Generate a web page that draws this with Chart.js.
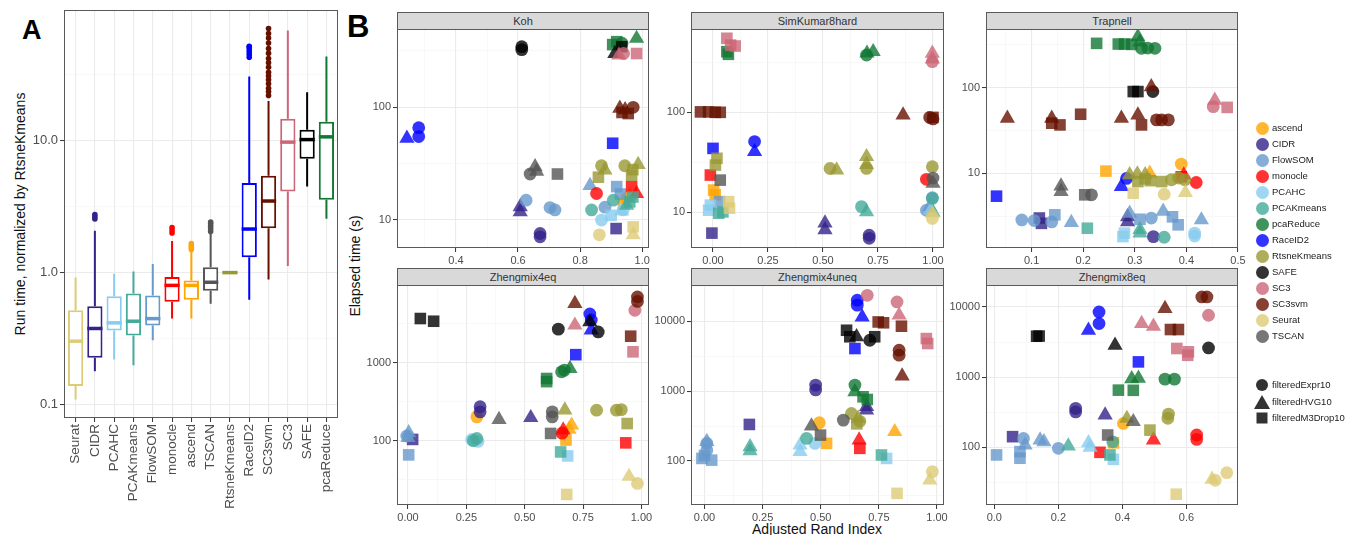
<!DOCTYPE html>
<html>
<head>
<meta charset="utf-8">
<script src="https://cdn.jsdelivr.net/npm/chart.js@4.4.1/dist/chart.umd.min.js"></script>
<style>
  body { margin: 0; background: #fff; font-family: "Liberation Sans", Arial, sans-serif; }
  #fig { position: relative; width: 1348px; height: 535px; overflow: hidden; }
  #fig canvas { position: absolute; }
  .tag { position: absolute; font-weight: bold; line-height: 1; color: #000; }
  .title { position: absolute; font-size: 14px; color: #111; white-space: nowrap; line-height: 1; }
  .rot { transform: translate(-50%, -50%) rotate(-90deg); }
  .strip { position: absolute; box-sizing: border-box; background: #d9d9d9; border: 1px solid #595959;
           font-size: 11px; font-weight: normal; color: #333; text-align: center; line-height: 16px; }
  .lg { position: absolute; font-size: 9.5px; color: #1a1a1a; line-height: 1; white-space: nowrap; }
  .key { position: absolute; }
</style>
</head>
<body>
<div id="fig">
  <div class="tag" style="left:22px;top:17px;font-size:27px;">A</div>
  <div class="tag" style="left:347px;top:11px;font-size:31px;">B</div>
  <div class="title rot" style="left:20px;top:214px;">Run time, normalized by RtsneKmeans</div>
  <div class="title rot" style="left:355px;top:266px;">Elapsed time (s)</div>
  <div class="title" style="left:817px;top:529px;transform:translate(-50%,-50%);">Adjusted Rand Index</div>
</div>
<script>
// ---- methods and filterings (legend order) ----
const METHODS = ['ascend', 'CIDR', 'FlowSOM', 'monocle', 'PCAHC', 'PCAKmeans', 'pcaReduce',
  'RaceID2', 'RtsneKmeans', 'SAFE', 'SC3', 'SC3svm', 'Seurat', 'TSCAN'];
const METHOD_COLORS = ['#FFA500', '#332288', '#6699CC', '#FF0000', '#88CCEE', '#44AA99', '#117733',
  '#0000FF', '#999933', '#000000', '#CC6677', '#661100', '#DDCC77', '#555555'];
const FILTERS = ['Expr', 'HVG', 'M3Drop'];
const FILTER_NAMES = ['filteredExpr10', 'filteredHVG10', 'filteredM3Drop10'];

// ---- panel A: run time normalized by RtsneKmeans ----
const BOX_METHODS = ['Seurat', 'CIDR', 'PCAHC', 'PCAKmeans', 'FlowSOM', 'monocle', 'ascend', 'TSCAN',
  'RtsneKmeans', 'RaceID2', 'SC3svm', 'SC3', 'SAFE', 'pcaReduce'];
const BOX_LOWER  = [0.109, 0.179, 0.219, 0.198, 0.307, 0.448, 0.448, 0.58, 1, 0.624, 0.885, 1.12, 4.5, 2.56];
const BOX_Q1     = [0.138, 0.226, 0.364, 0.333, 0.397, 0.60, 0.624, 0.73, 1, 1.31, 2.17, 4.13, 7.3, 3.57];
const BOX_MEDIAN = [0.302, 0.377, 0.416, 0.428, 0.448, 0.80, 0.80, 0.845, 1, 2.14, 3.49, 9.76, 10.2, 10.7];
const BOX_Q3     = [0.518, 0.556, 0.661, 0.693, 0.67, 0.928, 0.87, 1.1, 1, 4.78, 5.43, 14.7, 12.1, 13.9];
const BOX_UPPER  = [0.92, 2.08, 0.98, 1.02, 1.16, 1.74, 1.44, 2.0, 1, 30.7, 20, 68.6, 23.3, 43.6];
const BOX_OUTLIERS = [[], [2.55, 2.65, 2.75], [], [], [], [2.0, 2.1, 2.2], [1.5, 1.55, 1.6, 1.66],
  [2.05, 2.15, 2.25, 2.35, 2.42], [], [43, 45, 47, 49, 51, 52],
  [22, 23.5, 25, 27, 29, 31, 33, 36, 39, 42, 46, 50, 55, 60, 65, 71], [], [], []];
const A_Y_TICKS = [0.1, 1, 10];

// ---- panel B: [method, filtering, ARI, elapsed seconds] ----
const KOH = [
  ['ascend','Expr',0.95,15.5],['ascend','HVG',0.96,16.5],['ascend','M3Drop',0.94,14],
  ['CIDR','HVG',0.607,13.1],['CIDR','HVG',0.607,11.8],['CIDR','Expr',0.671,7.6],['CIDR','Expr',0.671,7.1],['CIDR','M3Drop',0.916,8.4],
  ['FlowSOM','Expr',0.626,15],['FlowSOM','Expr',0.703,12.9],['FlowSOM','Expr',0.719,12.3],['FlowSOM','HVG',0.832,20.2],
  ['FlowSOM','M3Drop',0.918,19.8],['FlowSOM','M3Drop',0.93,17],['FlowSOM','Expr',0.88,13],
  ['monocle','Expr',0.853,17.2],['monocle','HVG',0.982,17.2],['monocle','M3Drop',0.966,19.8],
  ['PCAHC','Expr',0.869,10],['PCAHC','Expr',0.939,12.3],['PCAHC','HVG',0.934,12],['PCAHC','M3Drop',0.9,11],
  ['PCAKmeans','Expr',0.837,12.3],['PCAKmeans','Expr',0.907,15],['PCAKmeans','M3Drop',0.96,14.5],['PCAKmeans','HVG',0.95,13.5],['PCAKmeans','M3Drop',0.97,16],
  ['pcaReduce','M3Drop',0.918,382],['pcaReduce','M3Drop',0.905,360],['pcaReduce','Expr',0.935,370],['pcaReduce','HVG',0.982,408],
  ['RaceID2','Expr',0.28,66],['RaceID2','Expr',0.28,55],['RaceID2','HVG',0.242,53],['RaceID2','M3Drop',0.905,48],
  ['RtsneKmeans','Expr',0.869,30.3],['RtsneKmeans','Expr',0.944,30.3],['RtsneKmeans','M3Drop',0.859,24],['RtsneKmeans','HVG',0.88,27.8],
  ['RtsneKmeans','HVG',0.987,31],['RtsneKmeans','M3Drop',0.966,25],['RtsneKmeans','M3Drop',0.97,28],
  ['SAFE','Expr',0.612,345],['SAFE','Expr',0.612,325],['SAFE','HVG',0.912,300],['SAFE','M3Drop',0.934,345],
  ['SC3','M3Drop',0.982,300],['SC3','Expr',0.94,300],['SC3','HVG',0.925,290],
  ['SC3svm','HVG',0.928,98],['SC3svm','HVG',0.945,95],['SC3svm','Expr',0.971,100],['SC3svm','M3Drop',0.955,88],['SC3svm','M3Drop',0.935,90],
  ['Seurat','Expr',0.862,7.4],['Seurat','M3Drop',0.971,8.7],['Seurat','HVG',0.971,7.4],
  ['TSCAN','Expr',0.639,25.6],['TSCAN','HVG',0.655,29.7],['TSCAN','HVG',0.66,27],['TSCAN','M3Drop',0.727,25.6]
];
const SIMKUMAR8HARD = [
  ['ascend','M3Drop',0.003,16.7],['ascend','M3Drop',0.01,15],
  ['CIDR','M3Drop',-0.005,6.2],['CIDR','HVG',0.509,7.8],['CIDR','HVG',0.509,6.7],['CIDR','Expr',0.71,5.9],['CIDR','Expr',0.71,5.5],
  ['FlowSOM','M3Drop',0.03,12.8],['FlowSOM','Expr',0.97,10.5],['FlowSOM','HVG',0.985,11.4],['FlowSOM','Expr',0.997,14],
  ['monocle','M3Drop',-0.012,23.6],['monocle','Expr',0.97,21.4],
  ['PCAHC','M3Drop',-0.012,11.8],['PCAHC','M3Drop',-0.02,10.5],['PCAHC','HVG',0.99,10.5],
  ['PCAKmeans','M3Drop',0.026,9.8],['PCAKmeans','M3Drop',0.045,10.1],['PCAKmeans','Expr',0.675,11.4],['PCAKmeans','HVG',0.698,10.1],
  ['PCAKmeans','Expr',0.997,13.8],['PCAKmeans','HVG',1.0,10],
  ['pcaReduce','M3Drop',0.063,404],['pcaReduce','M3Drop',0.07,380],['pcaReduce','Expr',0.698,374],['pcaReduce','HVG',0.728,404],['pcaReduce','HVG',0.7,390],
  ['RaceID2','M3Drop',0,43.6],['RaceID2','Expr',0.189,51],['RaceID2','HVG',0.189,40.4],
  ['RtsneKmeans','M3Drop',0.018,34.7],['RtsneKmeans','M3Drop',0.011,29.7],['RtsneKmeans','Expr',0.532,27.5],['RtsneKmeans','HVG',0.562,26.5],
  ['RtsneKmeans','HVG',0.698,36],['RtsneKmeans','Expr',0.698,27.5],['RtsneKmeans','HVG',0.698,30],['RtsneKmeans','Expr',0.997,28.6],
  ['SC3','M3Drop',0.063,550],['SC3','M3Drop',0.101,460],['SC3','M3Drop',0.08,470],['SC3','HVG',0.997,389],['SC3','Expr',0.997,321],['SC3','HVG',0.997,340],
  ['SC3svm','M3Drop',-0.057,101],['SC3svm','M3Drop',-0.02,101],['SC3svm','M3Drop',0.01,100],['SC3svm','M3Drop',0.033,100],
  ['SC3svm','HVG',0.864,94],['SC3svm','Expr',0.985,89],['SC3svm','M3Drop',1.0,89],['SC3svm','Expr',1.0,86],
  ['Seurat','M3Drop',0.071,12.8],['Seurat','M3Drop',0.075,11],['Seurat','HVG',0.997,9.8],['Seurat','Expr',0.997,8.7],
  ['TSCAN','M3Drop',0.033,21],['TSCAN','HVG',1.0,19.5],['TSCAN','Expr',1.0,22]
];
const TRAPNELL = [
  ['ascend','M3Drop',0.244,10.6],['ascend','Expr',0.39,12.8],['ascend','HVG',0.329,10],
  ['CIDR','M3Drop',0.119,2.6],['CIDR','M3Drop',0.115,3.0],['CIDR','Expr',0.336,1.82],['CIDR','HVG',0.286,3.1],['CIDR','HVG',0.286,2.7],
  ['FlowSOM','Expr',0.081,2.85],['FlowSOM','Expr',0.105,2.8],['FlowSOM','Expr',0.139,2.7],['FlowSOM','M3Drop',0.145,3.27],
  ['FlowSOM','HVG',0.177,2.66],['FlowSOM','HVG',0.29,3.4],['FlowSOM','Expr',0.332,3.0],['FlowSOM','HVG',0.355,3.6],
  ['FlowSOM','M3Drop',0.373,3.1],['FlowSOM','M3Drop',0.384,2.5],['FlowSOM','HVG',0.429,2.85],['FlowSOM','M3Drop',0.31,2.9],
  ['monocle','M3Drop',0.39,9.1],['monocle','HVG',0.395,9.5],['monocle','Expr',0.419,7.8],
  ['PCAHC','M3Drop',0.277,1.82],['PCAHC','M3Drop',0.28,2.0],['PCAHC','Expr',0.416,2.0],['PCAHC','Expr',0.416,1.85],
  ['PCAKmeans','M3Drop',0.208,2.28],['PCAKmeans','HVG',0.31,2.0],['PCAKmeans','HVG',0.31,2.2],['PCAKmeans','Expr',0.357,1.79],
  ['pcaReduce','M3Drop',0.226,329],['pcaReduce','M3Drop',0.268,323],['pcaReduce','M3Drop',0.28,323],['pcaReduce','M3Drop',0.294,320],
  ['pcaReduce','HVG',0.306,393],['pcaReduce','HVG',0.31,340],['pcaReduce','Expr',0.313,288],['pcaReduce','Expr',0.325,290],['pcaReduce','Expr',0.339,288],
  ['RaceID2','Expr',0.284,8.7],['RaceID2','HVG',0.274,7],['RaceID2','M3Drop',0.032,5.4],
  ['RtsneKmeans','HVG',0.29,9.6],['RtsneKmeans','HVG',0.305,9.8],['RtsneKmeans','HVG',0.32,9.6],['RtsneKmeans','M3Drop',0.306,8],
  ['RtsneKmeans','M3Drop',0.33,8.2],['RtsneKmeans','M3Drop',0.352,8],['RtsneKmeans','Expr',0.371,8.4],['RtsneKmeans','Expr',0.385,8.8],
  ['RtsneKmeans','Expr',0.397,8.4],['RtsneKmeans','M3Drop',0.32,8.6],
  ['SAFE','M3Drop',0.297,90],['SAFE','M3Drop',0.306,90],['SAFE','Expr',0.335,90],
  ['SC3','Expr',0.452,60],['SC3','HVG',0.455,71],['SC3','M3Drop',0.479,58.8],
  ['SC3svm','HVG',0.332,102],['SC3svm','HVG',0.053,43.8],['SC3svm','HVG',0.139,43.8],['SC3svm','M3Drop',0.139,38.4],
  ['SC3svm','M3Drop',0.155,36.7],['SC3svm','M3Drop',0.195,48.9],['SC3svm','HVG',0.274,43.8],['SC3svm','HVG',0.306,47.9],
  ['SC3svm','M3Drop',0.313,36.7],['SC3svm','Expr',0.342,42],['SC3svm','Expr',0.352,42],['SC3svm','Expr',0.365,42],
  ['Seurat','M3Drop',0.297,5.85],['Seurat','Expr',0.357,5.7],['Seurat','HVG',0.398,5.95],
  ['TSCAN','HVG',0.157,7.1],['TSCAN','HVG',0.157,6.1],['TSCAN','M3Drop',0.203,5.6],['TSCAN','Expr',0.216,5.6]
];
const ZHENGMIX4EQ = [
  ['ascend','Expr',0.295,202],['ascend','HVG',0.701,158],['ascend','M3Drop',0.677,102],['ascend','HVG',0.69,140],
  ['CIDR','Expr',0.309,272],['CIDR','Expr',0.309,234],['CIDR','HVG',0.526,197],['CIDR','M3Drop',0.02,104],
  ['FlowSOM','HVG',0.003,126],['FlowSOM','Expr',-0.005,115],['FlowSOM','M3Drop',0.003,66],['FlowSOM','HVG',0.0,110],
  ['monocle','HVG',0.665,137],['monocle','M3Drop',0.933,94],['monocle','Expr',0.66,125],
  ['PCAHC','Expr',0.273,104],['PCAHC','Expr',0.3,98],['PCAHC','M3Drop',0.684,64],
  ['PCAKmeans','Expr',0.295,107],['PCAKmeans','Expr',0.28,100],['PCAKmeans','M3Drop',0.654,72],
  ['pcaReduce','Expr',0.658,760],['pcaReduce','Expr',0.67,800],['pcaReduce','HVG',0.694,835],['pcaReduce','M3Drop',0.594,625],['pcaReduce','M3Drop',0.594,570],
  ['RaceID2','Expr',0.779,4170],['RaceID2','HVG',0.785,2600],['RaceID2','M3Drop',0.719,1260],['RaceID2','Expr',0.785,3500],
  ['RtsneKmeans','HVG',0.672,246],['RtsneKmeans','Expr',0.808,246],['RtsneKmeans','Expr',0.893,246],['RtsneKmeans','Expr',0.914,250],['RtsneKmeans','M3Drop',0.939,166],
  ['SAFE','M3Drop',0.053,3650],['SAFE','M3Drop',0.11,3370],['SAFE','Expr',0.644,2670],['SAFE','Expr',0.815,2460],['SAFE','HVG',0.779,3300],
  ['SC3','Expr',0.972,4650],['SC3','HVG',0.715,3000],['SC3','M3Drop',0.964,1370],
  ['SC3svm','HVG',0.715,5660],['SC3svm','Expr',0.983,6890],['SC3svm','Expr',0.983,6030],['SC3svm','M3Drop',0.954,2170],
  ['Seurat','HVG',0.947,35],['Seurat','Expr',0.983,28.5],['Seurat','M3Drop',0.68,20.6],
  ['TSCAN','HVG',0.39,187],['TSCAN','Expr',0.618,234],['TSCAN','Expr',0.618,202],['TSCAN','M3Drop',0.611,124]
];
const ZHENGMIX4UNEQ = [
  ['ascend','Expr',0.494,353],['ascend','HVG',0.818,263],['ascend','M3Drop',0.525,179],
  ['CIDR','Expr',0.478,1220],['CIDR','Expr',0.478,1040],['CIDR','HVG',0.697,535],['CIDR','HVG',0.697,600],['CIDR','M3Drop',0.193,334],
  ['FlowSOM','Expr',0.01,179],['FlowSOM','Expr',0.01,143],['FlowSOM','HVG',0.01,190],['FlowSOM','M3Drop',-0.011,109],
  ['FlowSOM','M3Drop',0.031,103],['FlowSOM','M3Drop',0.0,120],
  ['monocle','HVG',0.665,200],['monocle','M3Drop',0.668,152],
  ['PCAHC','HVG',0.411,169],['PCAHC','HVG',0.411,136],['PCAHC','Expr',0.475,179],['PCAHC','M3Drop',0.783,109],
  ['PCAKmeans','HVG',0.196,160],['PCAKmeans','HVG',0.196,140],['PCAKmeans','Expr',0.439,211],['PCAKmeans','M3Drop',0.761,122],
  ['pcaReduce','Expr',0.647,1220],['pcaReduce','HVG',0.647,980],['pcaReduce','M3Drop',0.682,830],['pcaReduce','M3Drop',0.7,760],
  ['RaceID2','Expr',0.657,20000],['RaceID2','Expr',0.657,17000],['RaceID2','HVG',0.678,11500],['RaceID2','M3Drop',0.647,4070],
  ['RtsneKmeans','Expr',0.632,480],['RtsneKmeans','Expr',0.668,370],['RtsneKmeans','HVG',0.661,408],['RtsneKmeans','M3Drop',0.655,340],
  ['SAFE','M3Drop',0.611,7430],['SAFE','M3Drop',0.625,6000],['SAFE','M3Drop',0.732,6000],['SAFE','HVG',0.654,5970],['SAFE','Expr',0.711,5350],
  ['SC3','Expr',0.70,23500],['SC3','Expr',0.828,18900],['SC3','HVG',0.837,12200],['SC3','M3Drop',0.954,5650],['SC3','M3Drop',0.96,4800],
  ['SC3svm','M3Drop',0.747,9770],['SC3svm','M3Drop',0.77,9500],['SC3svm','M3Drop',0.847,8490],['SC3svm','Expr',0.837,3850],
  ['SC3svm','Expr',0.837,3270],['SC3svm','HVG',0.85,1640],
  ['Seurat','Expr',0.98,70.5],['Seurat','HVG',0.969,53.5],['Seurat','M3Drop',0.828,34.5],
  ['TSCAN','Expr',0.597,385],['TSCAN','HVG',0.46,316],['TSCAN','M3Drop',0.499,235]
];
const ZHENGMIX8EQ = [
  ['ascend','Expr',0.403,219],['ascend','M3Drop',0.372,116],
  ['CIDR','Expr',0.254,359],['CIDR','Expr',0.254,320],['CIDR','HVG',0.346,288],['CIDR','M3Drop',0.057,142],
  ['FlowSOM','Expr',0.091,134],['FlowSOM','Expr',0.2,97],['FlowSOM','HVG',0.096,108],['FlowSOM','HVG',0.143,127],
  ['FlowSOM','HVG',0.155,120],['FlowSOM','M3Drop',0.007,78],['FlowSOM','M3Drop',0.08,87],['FlowSOM','M3Drop',0.08,70],
  ['monocle','Expr',0.632,150],['monocle','Expr',0.632,130],['monocle','HVG',0.497,127],['monocle','M3Drop',0.33,85],
  ['PCAHC','HVG',0.294,116],['PCAHC','HVG',0.299,100],['PCAHC','M3Drop',0.372,67.5],
  ['PCAKmeans','HVG',0.231,104],['PCAKmeans','M3Drop',0.361,78],['PCAKmeans','Expr',0.37,120],
  ['pcaReduce','Expr',0.533,937],['pcaReduce','Expr',0.5625,937],['pcaReduce','HVG',0.429,947],['pcaReduce','HVG',0.45,960],
  ['pcaReduce','M3Drop',0.3875,653],['pcaReduce','M3Drop',0.434,650],
  ['RaceID2','Expr',0.327,8490],['RaceID2','Expr',0.327,5800],['RaceID2','HVG',0.294,4660],['RaceID2','M3Drop',0.45,1650],
  ['RtsneKmeans','Expr',0.544,298],['RtsneKmeans','Expr',0.542,260],['RtsneKmeans','HVG',0.414,258],['RtsneKmeans','M3Drop',0.486,176],
  ['SAFE','M3Drop',0.132,3830],['SAFE','M3Drop',0.14,3850],['SAFE','HVG',0.377,2850],['SAFE','Expr',0.669,2610],
  ['SC3','Expr',0.669,7620],['SC3','HVG',0.46,5800],['SC3','HVG',0.497,5300],['SC3','M3Drop',0.57,2560],['SC3','M3Drop',0.606,2300],['SC3','M3Drop',0.604,2050],
  ['SC3svm','Expr',0.648,13900],['SC3svm','Expr',0.664,13900],['SC3svm','HVG',0.533,9460],['SC3svm','M3Drop',0.575,4770],['SC3svm','M3Drop',0.55,4770],
  ['Seurat','Expr',0.726,43.6],['Seurat','Expr',0.69,34],['Seurat','HVG',0.68,35],['Seurat','M3Drop',0.568,21.5],
  ['TSCAN','HVG',0.434,232],['TSCAN','M3Drop',0.354,150]
];

// tick values per facet
const KOH_X_TICKS = [0.4, 0.6, 0.8, 1.0];
const ARI_QUARTER_TICKS = [0, 0.25, 0.5, 0.75, 1.0];
const TRAPNELL_X_TICKS = [0.1, 0.2, 0.3, 0.4, 0.5];
const Z8_X_TICKS = [0, 0.2, 0.4, 0.6];
const TIME_TICKS_LOW = [10, 100];
const TIME_TICKS_MID = [100, 1000];
const TIME_TICKS_HIGH = [100, 1000, 10000];

// ---- layout / style ----
Chart.defaults.font.family = '"Liberation Sans", Arial, sans-serif';
Chart.defaults.animation = false;
const fig = document.getElementById('fig');
const TICK_COLOR = '#4D4D4D';
const FRAME = '#595959';
const GRID_MAJOR = '#EBEBEB';
const GRID_MINOR = '#F3F3F3';
const SHAPE_STYLE = { Expr: 'circle', HVG: 'triangle', M3Drop: 'rect' };
const SHAPE_RADIUS = { Expr: 6.4, HVG: 8.8, M3Drop: 8.2 };
const COLS_X = [[397, 649], [691, 944], [986, 1238]];
const ROWS_Y = [[29, 248], [285, 505]];
const STRIP_H = 17, Y_W = 44, X_H = 22, PAD_T = 10, PAD_R = 22, PAD_B = 2;

function colorOf(m, a) {
  const h = METHOD_COLORS[METHODS.indexOf(m)];
  const n = parseInt(h.slice(1), 16);
  return a === undefined ? h : `rgba(${n >> 16},${(n >> 8) & 255},${n & 255},${a})`;
}

function addCanvas(left, top, w, h) {
  const cv = document.createElement('canvas');
  cv.width = w; cv.height = h;
  cv.style.left = left + 'px'; cv.style.top = top + 'px';
  cv.style.width = w + 'px'; cv.style.height = h + 'px';
  fig.appendChild(cv);
  return cv;
}

// majors plus ggplot-style minor breaks halfway between them
function withMinors(majors, log) {
  const out = majors.map((v) => ({ value: v, minor: false }));
  const n = majors.length;
  const ext = log
    ? [majors[0] * majors[0] / majors[1], ...majors, majors[n - 1] * majors[n - 1] / majors[n - 2]]
    : [2 * majors[0] - majors[1], ...majors, 2 * majors[n - 1] - majors[n - 2]];
  for (let i = 0; i < ext.length - 1; i++) {
    out.push({ value: log ? Math.sqrt(ext[i] * ext[i + 1]) : (ext[i] + ext[i + 1]) / 2, minor: true });
  }
  return out;
}

function tickSetter(majors, log) {
  return (scale) => {
    const eps = (scale.max - scale.min) * 1e-6;
    scale.ticks = withMinors(majors, log)
      .filter((t) => t.value >= scale.min - eps && t.value <= scale.max + eps)
      .sort((a, b) => a.value - b.value);
  };
}

const isMinor = (ctx) => ctx.tick && ctx.tick.minor;
const gridOpts = {
  color: (ctx) => (isMinor(ctx) ? GRID_MINOR : GRID_MAJOR),
  lineWidth: (ctx) => (isMinor(ctx) ? 0.6 : 1.1),
  tickColor: (ctx) => (isMinor(ctx) ? 'rgba(0,0,0,0)' : '#333333'),
  tickWidth: 1,
  tickLength: 4,
};

const panelBorder = {
  id: 'panelBorder',
  afterDraw(chart) {
    const { ctx, chartArea: a } = chart;
    ctx.save();
    ctx.strokeStyle = FRAME;
    ctx.lineWidth = 1;
    ctx.strokeRect(Math.round(a.left) + 0.5, Math.round(a.top) + 0.5,
      Math.round(a.right - a.left) - 1, Math.round(a.bottom - a.top) - 1);
    ctx.restore();
  },
};

// ---- panel A: box plot (boxes are floating bars, whiskers/medians/outliers via plugin) ----
const boxExtras = {
  id: 'boxExtras',
  afterDatasetsDraw(chart) {
    const { ctx, scales: { x, y } } = chart;
    const bars = chart.getDatasetMeta(0).data;
    BOX_METHODS.forEach((m, i) => {
      const cx = x.getPixelForValue(i);
      const half = bars[i].width / 2;
      ctx.save();
      ctx.strokeStyle = ctx.fillStyle = colorOf(m);
      ctx.lineWidth = 2;
      ctx.beginPath();
      ctx.moveTo(cx, y.getPixelForValue(BOX_Q3[i]));
      ctx.lineTo(cx, y.getPixelForValue(BOX_UPPER[i]));
      ctx.moveTo(cx, y.getPixelForValue(BOX_Q1[i]));
      ctx.lineTo(cx, y.getPixelForValue(BOX_LOWER[i]));
      ctx.stroke();
      ctx.lineWidth = 3.5;
      ctx.beginPath();
      const my = y.getPixelForValue(BOX_MEDIAN[i]);
      ctx.moveTo(cx - half, my);
      ctx.lineTo(cx + half, my);
      ctx.stroke();
      BOX_OUTLIERS[i].forEach((v) => {
        ctx.beginPath();
        ctx.arc(cx, y.getPixelForValue(v), 2.8, 0, Math.PI * 2);
        ctx.fill();
      });
      ctx.restore();
    });
  },
};

new Chart(addCanvas(0, 0, 350, 535), {
  type: 'bar',
  data: {
    datasets: [{
      data: BOX_METHODS.map((m, i) => ({ x: i, y: [BOX_Q1[i], BOX_Q3[i]] })),
      backgroundColor: '#ffffff',
      borderColor: BOX_METHODS.map((m) => colorOf(m)),
      borderWidth: 2,
      borderSkipped: false,
      barPercentage: 0.79,
      categoryPercentage: 1,
    }],
  },
  options: {
    responsive: false,
    devicePixelRatio: 1,
    events: [],
    layout: { padding: { left: 0, top: 10, right: 12, bottom: 0 } },
    plugins: { legend: { display: false }, tooltip: { enabled: false } },
    scales: {
      x: {
        type: 'linear', min: -0.6, max: 13.6, offset: false,
        afterBuildTicks: (s) => { s.ticks = BOX_METHODS.map((m, i) => ({ value: i })); },
        afterFit: (s) => { s.height = 117; },
        grid: { ...gridOpts, offset: false },
        border: { display: false },
        ticks: {
          autoSkip: false, minRotation: 90, maxRotation: 90, padding: 2,
          color: TICK_COLOR, font: { size: 13.5 },
          callback: (v, i) => BOX_METHODS[i],
        },
      },
      y: {
        type: 'logarithmic', min: 0.079, max: 98, bounds: 'data', beginAtZero: false,
        afterBuildTicks: tickSetter(A_Y_TICKS, true),
        afterFit: (s) => { s.width = 64; },
        grid: gridOpts,
        border: { display: false },
        ticks: {
          autoSkip: false, padding: 2, color: TICK_COLOR, font: { size: 13 },
          callback: (v, i, t) => (t[i].minor ? '' : v.toFixed(1)),
        },
      },
    },
  },
  plugins: [boxExtras, panelBorder],
});

// ---- panel B facets ----
const FACETS = [
  { title: 'Koh', rows: KOH, col: 0, row: 0, x: [0.21, 1.022], xt: KOH_X_TICKS, dec: 1, y: [5.65, 495], yt: TIME_TICKS_LOW },
  { title: 'SimKumar8hard', rows: SIMKUMAR8HARD, col: 1, row: 0, x: [-0.1, 1.05], xt: ARI_QUARTER_TICKS, dec: 2, y: [4.4, 681], yt: TIME_TICKS_LOW },
  { title: 'Trapnell', rows: TRAPNELL, col: 2, row: 0, x: [0.0116, 0.5], xt: TRAPNELL_X_TICKS, dec: 1, y: [1.34, 484], yt: TIME_TICKS_LOW },
  { title: 'Zhengmix4eq', rows: ZHENGMIX4EQ, col: 0, row: 1, x: [-0.047, 1.0325], xt: ARI_QUARTER_TICKS, dec: 2, y: [15.1, 9790], yt: TIME_TICKS_MID },
  { title: 'Zhengmix4uneq', rows: ZHENGMIX4UNEQ, col: 1, row: 1, x: [-0.058, 1.03], xt: ARI_QUARTER_TICKS, dec: 2, y: [23.5, 33000], yt: TIME_TICKS_HIGH },
  { title: 'Zhengmix8eq', rows: ZHENGMIX8EQ, col: 2, row: 1, x: [-0.026, 0.761], xt: Z8_X_TICKS, dec: 1, y: [15.1, 20550], yt: TIME_TICKS_HIGH },
];

FACETS.forEach((f) => {
  const [L, R] = COLS_X[f.col];
  const [T, B] = ROWS_Y[f.row];
  const strip = document.createElement('div');
  strip.className = 'strip';
  strip.style.left = L + 'px';
  strip.style.top = (T - STRIP_H) + 'px';
  strip.style.width = (R - L) + 'px';
  strip.style.height = (STRIP_H + 1) + 'px';
  strip.textContent = f.title;
  fig.appendChild(strip);

  const cv = addCanvas(L - Y_W, T - PAD_T, Y_W + (R - L) + PAD_R, PAD_T + (B - T) + X_H + PAD_B);
  new Chart(cv, {
    type: 'scatter',
    data: {
      datasets: [{
        data: f.rows.map((r) => ({ x: r[2], y: r[3], m: r[0], f: r[1] })),
        pointStyle: (c) => SHAPE_STYLE[c.raw.f],
        pointRadius: (c) => SHAPE_RADIUS[c.raw.f],
        pointBackgroundColor: (c) => colorOf(c.raw.m, 0.8),
        pointBorderWidth: 0,
        pointBorderColor: 'rgba(0,0,0,0)',
        clip: 0,
      }],
    },
    options: {
      responsive: false,
      devicePixelRatio: 1,
      events: [],
      layout: { padding: { left: 0, top: PAD_T, right: PAD_R, bottom: PAD_B } },
      plugins: { legend: { display: false }, tooltip: { enabled: false } },
      scales: {
        x: {
          type: 'linear', min: f.x[0], max: f.x[1], bounds: 'data',
          afterBuildTicks: tickSetter(f.xt, false),
          afterFit: (s) => { s.height = X_H; },
          grid: gridOpts,
          border: { display: false },
          ticks: {
            autoSkip: false, maxRotation: 0, padding: 2, color: TICK_COLOR, font: { size: 11 },
            callback: (v, i, t) => (t[i].minor ? '' : v.toFixed(f.dec)),
          },
        },
        y: {
          type: 'logarithmic', min: f.y[0], max: f.y[1], bounds: 'data', beginAtZero: false,
          afterBuildTicks: tickSetter(f.yt, true),
          afterFit: (s) => { s.width = Y_W; },
          grid: gridOpts,
          border: { display: false },
          ticks: {
            autoSkip: false, padding: 2, color: TICK_COLOR, font: { size: 11 },
            callback: (v, i, t) => (t[i].minor ? '' : String(Math.round(v))),
          },
        },
      },
    },
    plugins: [panelBorder],
  });
});

// ---- legend (colour = method, shape = filtering) ----
const LEG_X = 1262, LEG_TEXT_X = 1272, LEG_Y0 = 128.3, LEG_STEP = 16, SHAPE_Y0 = 385, SHAPE_STEP = 16.7;
function addLabel(text, cy) {
  const d = document.createElement('div');
  d.className = 'lg';
  d.style.left = LEG_TEXT_X + 'px';
  d.style.top = (cy - 5) + 'px';
  d.textContent = text;
  fig.appendChild(d);
}
METHODS.forEach((m, i) => {
  const cy = LEG_Y0 + i * LEG_STEP;
  const k = document.createElement('div');
  k.className = 'key';
  Object.assign(k.style, { left: (LEG_X - 6.5) + 'px', top: (cy - 6.5) + 'px', width: '13px', height: '13px',
    borderRadius: '50%', background: colorOf(m, 0.8) });
  fig.appendChild(k);
  addLabel(m, cy);
});
const SHAPE_SVG = {
  Expr: '<circle cx="8" cy="8" r="6" fill="#333"/>',
  HVG: '<polygon points="8,1 16,15 0,15" fill="#333"/>',
  M3Drop: '<rect x="2.5" y="2.5" width="11" height="11" fill="#333"/>',
};
FILTERS.forEach((f, i) => {
  const cy = SHAPE_Y0 + i * SHAPE_STEP;
  const k = document.createElement('div');
  k.className = 'key';
  Object.assign(k.style, { left: (LEG_X - 8) + 'px', top: (cy - 8) + 'px', width: '16px', height: '16px' });
  k.innerHTML = '<svg width="16" height="16" viewBox="0 0 16 16">' + SHAPE_SVG[f] + '</svg>';
  fig.appendChild(k);
  addLabel(FILTER_NAMES[i], cy);
});
</script>
</body>
</html>
